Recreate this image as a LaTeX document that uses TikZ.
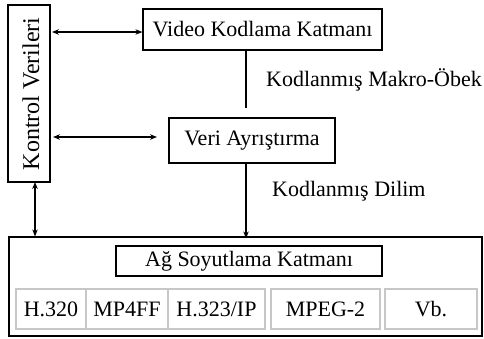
\documentclass[tikz,border=0pt]{standalone}
\usepackage{fontspec}
\setmainfont{Liberation Serif}
\usetikzlibrary{arrows.meta}
\begin{document}
\begin{tikzpicture}[x=1pt,y=-1pt,
  box/.style={draw=black,line width=1.2pt,inner sep=0pt,font=\fontsize{22}{24}\selectfont},
  cell/.style={draw=black!22,line width=1.2pt,inner sep=0pt,minimum height=40pt,font=\fontsize{22}{24}\selectfont},
  lbl/.style={inner sep=0pt,anchor=west,font=\fontsize{22}{24}\selectfont},
  conn/.style={line width=1.1pt},
  arr/.style={conn,-{Stealth[length=7pt,width=5.5pt]}},
  darr/.style={conn,{Stealth[length=7pt,width=5.5pt]}-{Stealth[length=7pt,width=5.5pt]}}]
\useasboundingbox (0,0) rectangle (484,338);
\node[box,minimum width=42pt,minimum height=177pt] (kv) at (29,93.5) {};
\node[rotate=90,inner sep=0pt,font=\fontsize{24}{26}\selectfont] (kvt) at (31,94) {Kontrol Verileri};
\node[box,minimum width=239pt,minimum height=41pt] (vkk) at (262.5,29.5) {Video Kodlama Katmanı};
\node[box,minimum width=166pt,minimum height=45pt] (va) at (252,140.5) {Veri Ayrıştırma};
\node[box,minimum width=473pt,minimum height=99pt] (big) at (245.5,286.5) {};
\node[box,minimum width=266pt,minimum height=30pt] (ask) at (249,261) {Ağ Soyutlama Katmanı};
\node[cell,minimum width=70pt] (c1) at (51,309) {H.320};
\node[cell,minimum width=82pt] (c2) at (127,309) {MP4FF};
\node[cell,minimum width=97pt] (c3) at (216.5,309) {H.323/IP};
\node[cell,minimum width=109pt] (c4) at (325.5,309) {MPEG-2};
\node[cell,minimum width=92pt] (c5) at (431,309) {Vb.};
\node[lbl] (l1) at (266,80) {Kodlanmış Makro-Öbek};
\node[lbl] (l2) at (272,191) {Kodlanmış Dilim};
\coordinate (a1) at (52,32);
\coordinate (a2) at (53,137);
\coordinate (a2e) at (157,137);
\coordinate (m1) at (246,108);
\coordinate (k1) at (35,182);
\draw[darr] (a1) -- (vkk.west |- a1);
\draw[darr] (a2) -- (a2e);
\draw[conn] (vkk.south -| m1) -- (m1);
\draw[arr] (va.south -| m1) -- ([yshift=-2pt]big.north -| m1);
\draw[darr] (k1) -- (big.north -| k1);
\end{tikzpicture}
\end{document}
